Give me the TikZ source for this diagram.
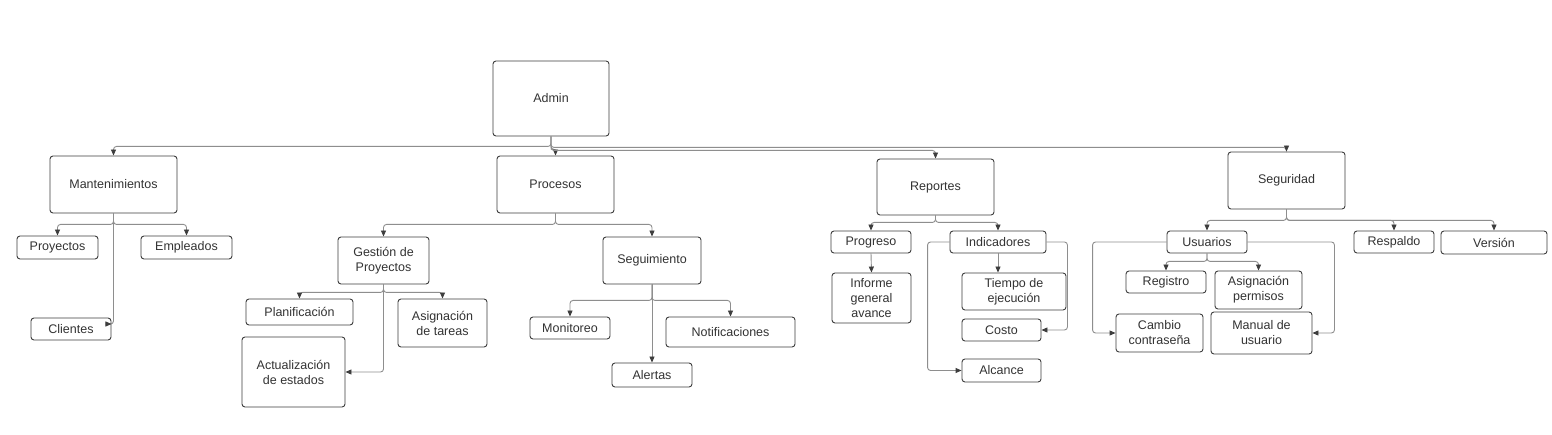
\documentclass[tikz,border=0pt]{standalone}
\usepackage{fontspec}
\setmainfont{Liberation Sans}
\usetikzlibrary{arrows.meta}
\definecolor{bord}{HTML}{3D3D3D}
\definecolor{lnc}{HTML}{8E8E8E}
\definecolor{txt}{HTML}{333333}
\newcommand\bxn[6]{\node[bx,minimum width=#4pt,minimum height=#5pt] (#1) at (#2,#3) {#6};}
\begin{document}
\begin{tikzpicture}[x=1pt,y=-1pt,
 bx/.style={draw=bord, line width=0.9pt, rounded corners=3pt, align=center, inner sep=0pt, text=txt, font=\fontsize{12.5}{15}\selectfont},
 conn/.style={draw=lnc, line width=0.9pt, rounded corners=3pt, -{Triangle[length=6pt,width=5pt,color=bord]}}]
\useasboundingbox (0,0) rectangle (1552,435);
\fill[white] (0,0) rectangle (1552,435);
% level 0/1
\bxn{admin}{551}{98.5}{116}{75}{Admin}
\bxn{mant}{113.5}{184.5}{127}{57}{Mantenimientos}
\bxn{proc}{555.5}{184.5}{117}{57}{Procesos}
\bxn{rep}{935.5}{187}{117}{56}{Reportes}
\bxn{seg}{1286.5}{180.5}{117}{57}{Seguridad}
% Mantenimientos
\bxn{proy}{57.5}{247.5}{81}{23}{Proyectos}
\bxn{emp}{186.5}{247.5}{91}{23}{Empleados}
\bxn{cli}{71}{329}{80}{22}{Clientes}
% Procesos
\bxn{gest}{383.5}{260.5}{91}{47}{Gestión de\\Proyectos}
\bxn{segui}{652}{260.5}{98}{47}{Seguimiento}
\bxn{plan}{299.5}{312}{107}{26}{Planificación}
\bxn{asigt}{442.5}{323}{89}{48}{Asignación\\de tareas}
\bxn{act}{293.5}{372}{103}{70}{Actualización\\de estados}
\bxn{mon}{570}{328}{80}{22}{Monitoreo}
\bxn{notif}{730.5}{332}{129}{30}{Notificaciones}
\bxn{alert}{652}{375}{80}{24}{Alertas}
% Reportes
\bxn{prog}{871}{242}{80}{22}{Progreso}
\bxn{ind}{998}{242}{96}{22}{Indicadores}
\bxn{inf}{871.5}{298}{79}{50}{Informe\\general\\avance}
\bxn{tiem}{1014}{291.5}{104}{37}{Tiempo de\\ejecución}
\bxn{costo}{1001.5}{330}{79}{22}{Costo}
\bxn{alc}{1001.5}{370.5}{79}{23}{Alcance}
% Seguridad
\bxn{usu}{1207}{242}{80}{22}{Usuarios}
\bxn{resp}{1394}{242}{80}{22}{Respaldo}
\bxn{ver}{1494}{242.5}{106}{23}{Versión}
\bxn{reg}{1166}{282}{80}{22}{Registro}
\bxn{asigp}{1258.5}{290}{87}{38}{Asignación\\permisos}
\bxn{camb}{1159.5}{333}{87}{38}{Cambio\\contraseña}
\bxn{man}{1261.5}{333}{101}{42}{Manual de\\usuario}
% connectors
\draw[conn] (admin.south) -- ++(0,10) -| (mant.north);
\draw[conn] (admin.south) -- ++(0,13) -| (proc.north);
\draw[conn] (admin.south) -- ++(0,14) -| (rep.north);
\draw[conn] (admin.south) -- ++(0,11) -| (seg.north);
\draw[conn] (mant.south) -- ++(0,11) -| (proy.north);
\draw[conn] (mant.south) -- ++(0,11) -| (emp.north);
\draw[conn] (mant.south) |- ([yshift=5pt]cli.east);
\draw[conn] (proc.south) -- ++(0,11) -| (gest.north);
\draw[conn] (proc.south) -- ++(0,11) -| (segui.north);
\draw[conn] (gest.south) -- ++(0,8) -| (plan.north);
\draw[conn] (gest.south) -- ++(0,8) -| (asigt.north);
\draw[conn] (gest.south) |- (act.east);
\draw[conn] (segui.south) -- ++(0,16) -| (mon.north);
\draw[conn] (segui.south) -- ++(0,16) -| (notif.north);
\draw[conn] (segui.south) -- (alert.north);
\draw[conn] (rep.south) -- ++(0,7) -| (prog.north);
\draw[conn] (rep.south) -- ++(0,7) -| (ind.north);
\draw[conn] (prog.south) -- (inf.north);
\draw[conn] (ind.south) -- (ind.south |- tiem.north);
\draw[conn] (ind.east) -- ++(21,0) |- (costo.east);
\draw[conn] (ind.west) -- ++(-22,0) |- (alc.west);
\draw[conn] (seg.south) -- ++(0,11) -| (usu.north);
\draw[conn] (seg.south) -- ++(0,11) -| (resp.north);
\draw[conn] (seg.south) -- ++(0,11) -| (ver.north);
\draw[conn] (usu.south) -- ++(0,8) -| (reg.north);
\draw[conn] (usu.south) -- ++(0,8) -| (asigp.north);
\draw[conn] (usu.west) -- ++(-74,0) |- (camb.west);
\draw[conn] (usu.east) -- ++(87,0) |- (man.east);
\end{tikzpicture}
\end{document}
